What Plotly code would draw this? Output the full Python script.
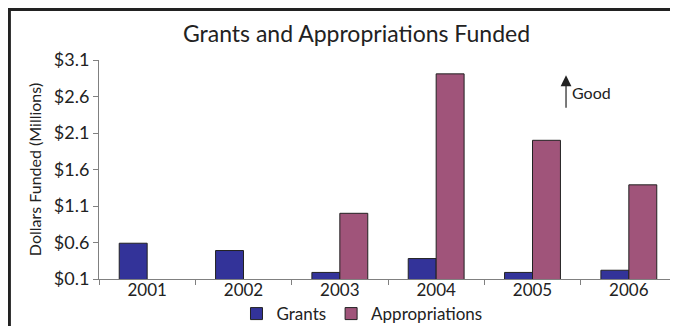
import plotly.graph_objects as go

years = ['2001', '2002', '2003', '2004', '2005', '2006']
grants = [0.59, 0.49, 0.19, 0.38, 0.19, 0.22]
appropriations = [None, None, 1.00, 2.91, 2.00, 1.39]
tick_vals = [0.1, 0.6, 1.1, 1.6, 2.1, 2.6, 3.1]
tick_text = ['$0.1', '$0.6', '$1.1', '$1.6', '$2.1', '$2.6', '$3.1']

font_family = 'Lato, Noto Sans, sans-serif'

fig = go.Figure()
fig.add_trace(go.Bar(
    x=years, y=grants, name='Grants',
    marker_color='#333399', marker_line_color='#222222', marker_line_width=1
))
fig.add_trace(go.Bar(
    x=years, y=appropriations, name='Appropriations',
    marker_color='#A0547A', marker_line_color='#222222', marker_line_width=1
))

# outer frame (only the top and left edges fall inside the picture)
fig.add_shape(type='line', xref='paper', yref='paper',
              x0=-0.158, x1=1.03, y0=1.231, y1=1.231,
              line=dict(color='#222222', width=3))
fig.add_shape(type='line', xref='paper', yref='paper',
              x0=-0.155, x1=-0.155, y0=1.238, y1=-0.3,
              line=dict(color='#222222', width=3))

# "Good" arrow
fig.add_annotation(xref='paper', yref='paper', x=0.808, y=0.93,
                   ax=0, ay=34, text='', showarrow=True,
                   arrowhead=2, arrowsize=1.8, arrowwidth=1.2, arrowcolor='#222222')
fig.add_annotation(xref='paper', yref='paper', x=0.815, y=0.85,
                   xanchor='left', yanchor='middle', text='Good', showarrow=False,
                   font=dict(size=16, color='#222222'))

fig.update_layout(
    width=678, height=326,
    margin=dict(l=91, r=9, t=52, b=55, autoexpand=False),
    title=dict(text='Grants and Appropriations Funded', x=0.514, xanchor='center',
               y=0.92, yanchor='middle', font=dict(size=23, color='#222222')),
    font=dict(family=font_family, size=15, color='#222222'),
    plot_bgcolor='white', paper_bgcolor='white',
    barmode='group', bargap=0.42, bargroupgap=0,
    showlegend=True,
    legend=dict(orientation='h', x=0.455, xanchor='center', y=-0.16, yanchor='middle',
                font=dict(size=17), itemwidth=30, bgcolor='rgba(0,0,0,0)'),
    xaxis=dict(showline=True, linecolor='#808080', linewidth=1,
               ticks='outside', ticklen=5, tickcolor='#808080', tickson='boundaries',
               tickfont=dict(size=17), ticklabelstandoff=-4,
               showgrid=False, automargin=False),
    yaxis=dict(range=[0.1, 3.1], tickvals=tick_vals, ticktext=tick_text,
               showline=True, linecolor='#808080', linewidth=1,
               ticks='outside', ticklen=5, tickcolor='#808080',
               tickfont=dict(size=18), showgrid=False, zeroline=False, automargin=False,
               title=dict(text='Dollars Funded (Millions)', font=dict(size=16), standoff=8)),
)

fig.write_html('out.html')
